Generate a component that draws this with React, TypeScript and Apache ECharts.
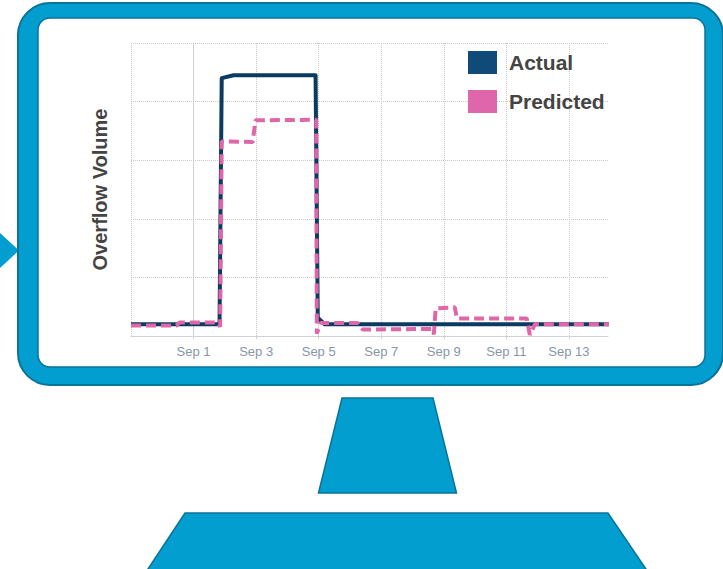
import React, { useEffect, useRef } from "react";
import * as echarts from "echarts";

// x values: days after Sep 1 00:00 (0 = Sep 1)
const xTickDays = [0, 2, 4, 6, 8, 10, 12];
const actualDays = [-2, 0.83, 0.9, 1.28, 3.9, 3.97, 4.19, 13.28];
const actualVolume = [0.2, 0.2, 4.4, 4.45, 4.45, 0.31, 0.2, 0.2];
const predictedDays = [-2, -0.55, -0.45, 0.77, 0.85, 0.9, 1.89, 1.98, 3.92, 3.94, 4.06, 5.25, 5.41, 7.62, 7.68, 7.74, 8.35, 8.42, 10.65, 10.75, 10.91, 13.28];
const predictedVolume = [0.18, 0.18, 0.23, 0.23, 0.16, 3.32, 3.31, 3.68, 3.69, 0.04, 0.22, 0.22, 0.11, 0.12, 0.03, 0.47, 0.49, 0.3, 0.3, 0.02, 0.2, 0.2];
const seriesNames = ["Actual", "Predicted"];
const yAxisTitle = "Overflow Volume";

const BLUE = "#019ecf";
const EDGE = "#0b7398";

export default function App() {
  const ref = useRef<HTMLDivElement>(null);
  useEffect(() => {
    if (!ref.current) return;
    const chart = echarts.init(ref.current, undefined, { renderer: "svg" });
    const actual = actualDays.map((d, i) => [d, actualVolume[i]]);
    const predicted = predictedDays.map((d, i) => [d, predictedVolume[i]]);
    const font = "'Liberation Sans', Arial, sans-serif";
    chart.setOption({
      animation: false,
      backgroundColor: "#ffffff",
      graphic: [
        { type: "polygon", z: -10, shape: { points: [[0, 233], [19, 250.5], [0, 268]] }, style: { fill: BLUE } },
        { type: "rect", z: -9, shape: { x: 18, y: 3, width: 705, height: 382, r: 32 }, style: { fill: BLUE, stroke: EDGE, lineWidth: 2 } },
        { type: "rect", z: -8, shape: { x: 38, y: 18, width: 667, height: 349, r: 12 }, style: { fill: "#ffffff", stroke: EDGE, lineWidth: 1.5 } },
        { type: "polygon", z: -8, shape: { points: [[342, 398], [433, 398], [456.5, 493], [318.5, 493]] }, style: { fill: BLUE, stroke: EDGE, lineWidth: 1.5 } },
        { type: "polygon", z: -8, shape: { points: [[185, 513], [608, 513], [650, 575], [144, 575]] }, style: { fill: BLUE, stroke: EDGE, lineWidth: 1.5 } },
      ],
      legend: {
        orient: "vertical",
        left: 468,
        top: 51,
        padding: 0,
        itemGap: 16,
        itemWidth: 29,
        itemHeight: 23,
        icon: "rect",
        data: seriesNames,
        textStyle: { fontSize: 21, fontWeight: "bold", color: "#444444", fontFamily: font, padding: [0, 0, 0, 7], lineHeight: 23 },
      },
      grid: { left: 131, right: 114, top: 43, bottom: 233 },
      xAxis: {
        type: "value",
        min: -2,
        max: 13.28,
        interval: 2,
        axisLine: { show: true, lineStyle: { color: "#c8c8c8", type: "dotted", width: 1 } },
        axisTick: { show: true, length: 3, lineStyle: { color: "#d0d0d0" } },
        axisLabel: {
          margin: 9,
          fontSize: 13,
          color: "#8796a5",
          fontFamily: font,
          showMinLabel: false,
          showMaxLabel: false,
          formatter: (v: number) => (xTickDays.indexOf(v) >= 0 ? `Sep ${v + 1}` : ""),
        },
        splitLine: { show: true, showMaxLine: false, lineStyle: { color: "#c8c8c8", type: "dotted", width: 1 } },
      },
      yAxis: {
        type: "value",
        min: 0,
        max: 5,
        interval: 1,
        name: yAxisTitle,
        nameLocation: "middle",
        nameGap: 21,
        nameTextStyle: { fontSize: 20, fontWeight: "bold", color: "#444444", fontFamily: font },
        axisLine: { show: true, lineStyle: { color: "#c8c8c8", type: "dotted", width: 1 } },
        axisTick: { show: false },
        axisLabel: { show: false },
        splitLine: { show: true, lineStyle: { color: "#c8c8c8", type: "dotted", width: 1 } },
      },
      series: [
        {
          name: seriesNames[0],
          type: "line",
          data: actual,
          showSymbol: false,
          symbol: "none",
          itemStyle: { color: "#0f4a78" },
          lineStyle: { color: "#0b3b60", width: 4, join: "round" },
          z: 2,
        },
        {
          name: seriesNames[1],
          type: "line",
          data: predicted,
          showSymbol: false,
          symbol: "none",
          itemStyle: { color: "#df66aa" },
          lineStyle: { color: "#e066aa", width: 4, type: [10, 5], cap: "butt" },
          z: 3,
        },
      ],
    });
    return () => chart.dispose();
  }, []);
  return <div ref={ref} style={{ position: "fixed", left: 0, top: 0, width: 723, height: 569 }} />;
}
